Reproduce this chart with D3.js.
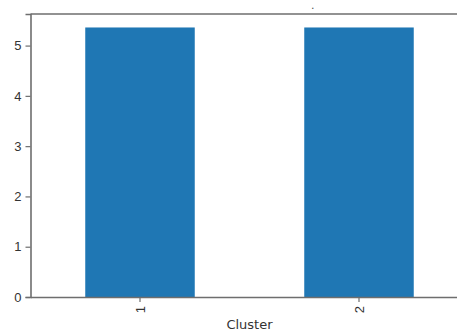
<!DOCTYPE html>
<html>
<head>
<meta charset="utf-8">
<script src="https://cdn.jsdelivr.net/npm/d3@7"></script>
<style>
  body { margin: 0; background: #fff; }
  svg { display: block; font-family: "DejaVu Sans", sans-serif; }
</style>
</head>
<body>
<div id="chart"></div>
<script>
// data
const clusters = ['1', '2'];
const counts = [5.36, 5.36];
const yTicks = [0, 1, 2, 3, 4, 5];

const width = 457, height = 329;
const margin = { top: 14, left: 30.5, bottom: 32 };
const plotW = 438; // right edge runs past the window
const plotH = height - margin.top - margin.bottom;

const svg = d3.select('#chart')
  .append('svg')
  .attr('width', width)
  .attr('height', height);

const g = svg.append('g')
  .attr('transform', `translate(${margin.left},${margin.top})`);

const x = d3.scaleBand()
  .domain(clusters)
  .range([0, plotW])
  .paddingInner(0.5)
  .paddingOuter(0.25);

const y = d3.scaleLinear()
  .domain([0, d3.max(counts) * 1.05])
  .range([plotH, 0]);

// bars
g.selectAll('.bar')
  .data(clusters)
  .enter()
  .append('rect')
  .attr('class', 'bar')
  .attr('x', d => x(d))
  .attr('width', x.bandwidth())
  .attr('y', (d, i) => y(counts[i]))
  .attr('height', (d, i) => plotH - y(counts[i]))
  .attr('fill', '#1f77b4');

// y axis
const yAxis = g.append('g')
  .call(d3.axisLeft(y).tickValues(yTicks).tickSize(5).tickPadding(4).tickFormat(d3.format('d')));
yAxis.selectAll('text').attr('font-size', 13).attr('fill', '#333');

// x axis with rotated labels
const xAxis = g.append('g')
  .attr('transform', `translate(0,${plotH})`)
  .call(d3.axisBottom(x).tickSize(5).tickSizeOuter(0));
xAxis.selectAll('text')
  .attr('font-size', 13)
  .attr('fill', '#333')
  .attr('transform', 'rotate(-90)')
  .attr('x', -9)
  .attr('y', 0)
  .attr('dy', '0.35em')
  .style('text-anchor', 'end');

[yAxis, xAxis].forEach(a => {
  a.selectAll('.domain').attr('stroke', '#6e6e6e').attr('stroke-width', 1.6);
  a.selectAll('.tick line').attr('stroke', '#6e6e6e').attr('stroke-width', 1.2);
});

// top spine
g.append('line')
  .attr('x1', 0).attr('x2', plotW)
  .attr('y1', 0).attr('y2', 0)
  .attr('stroke', '#6e6e6e')
  .attr('stroke-width', 1.6);

// axis label
svg.append('text')
  .attr('x', margin.left + plotW / 2)
  .attr('y', 329)
  .attr('text-anchor', 'middle')
  .attr('font-size', 13)
  .attr('fill', '#333')
  .text('Cluster');

// leftover of a clipped title
svg.append('text')
  .attr('x', 311)
  .attr('y', 9)
  .attr('font-size', 11)
  .attr('fill', '#555')
  .text('.');
</script>
</body>
</html>
